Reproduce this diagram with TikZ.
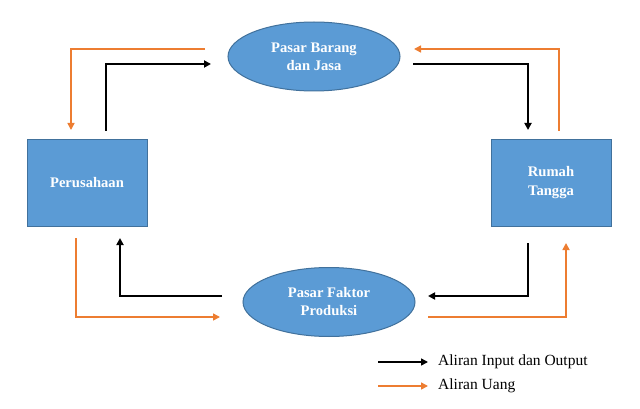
\documentclass[tikz,border=0pt]{standalone}
\usepackage{fontspec}
\setmainfont{Liberation Serif}
\usetikzlibrary{shapes.geometric,arrows.meta}
\definecolor{boxblue}{HTML}{5B9BD5}
\definecolor{boxedge}{HTML}{41719C}
\definecolor{flowor}{HTML}{ED7D31}
\tikzset{
  actor/.style={rectangle,fill=boxblue,draw=boxedge,line width=1pt,minimum width=120pt,minimum height=87pt,inner sep=0pt,text=white,font=\fontsize{14.6}{19}\selectfont\bfseries,align=center},
  market/.style={ellipse,fill=boxblue,draw=boxedge,line width=1pt,minimum width=172pt,minimum height=69pt,inner sep=0pt,text=white,font=\fontsize{14.6}{18}\selectfont\bfseries,align=center},
  goods/.style={draw=black,line width=2pt,-{Triangle[length=7pt,width=7pt]}},
  money/.style={draw=flowor,line width=1.6pt,-{Triangle[length=7pt,width=7pt]}},
  legtext/.style={anchor=west,inner sep=0pt,font=\fontsize{15.5}{18}\selectfont}
}
\begin{document}
\begin{tikzpicture}[x=1pt,y=-1pt]
\useasboundingbox (0,0) rectangle (640,409);
\node[market] (pbj) at (314,56.5) {Pasar Barang\\dan Jasa};
\node[market] (pfp) at (329,302) {Pasar Faktor\\Produksi};
\node[actor] (per) at (87,183) {Perusahaan};
\node[actor] (rt) at (551,183) {Rumah\\Tangga};
% connector end points
\coordinate (o1s) at (205,49); \coordinate (o1e) at (71,130);
\coordinate (b1s) at (106,131); \coordinate (b1e) at (211,64);
\coordinate (b2s) at (413,64); \coordinate (b2e) at (528,130);
\coordinate (o2s) at (559,131); \coordinate (o2e) at (414,49);
\coordinate (b3s) at (222,296); \coordinate (b3e) at (120,238);
\coordinate (o3s) at (76,238); \coordinate (o3e) at (220,317);
\coordinate (b4s) at (528,243); \coordinate (b4e) at (428,296);
\coordinate (o4s) at (428,317); \coordinate (o4e) at (566,243);
\draw[money] (o1s) -| (o1e);
\draw[goods] (b1s) |- (b1e);
\draw[goods] (b2s) -| (b2e);
\draw[money] (o2s) |- (o2e);
\draw[goods] (b3s) -| (b3e);
\draw[money] (o3s) |- (o3e);
\draw[goods] (b4s) |- (b4e);
\draw[money] (o4s) -| (o4e);
% legend
\coordinate (l1s) at (378,362); \coordinate (l1e) at (428,362);
\coordinate (l2s) at (378,386); \coordinate (l2e) at (428,386);
\draw[goods,line width=1.6pt] (l1s) -- (l1e);
\draw[money] (l2s) -- (l2e);
\node[legtext] (lt1) at (438,362) {Aliran Input dan Output};
\node[legtext] (lt2) at (438,386) {Aliran Uang};
\end{tikzpicture}
\end{document}
